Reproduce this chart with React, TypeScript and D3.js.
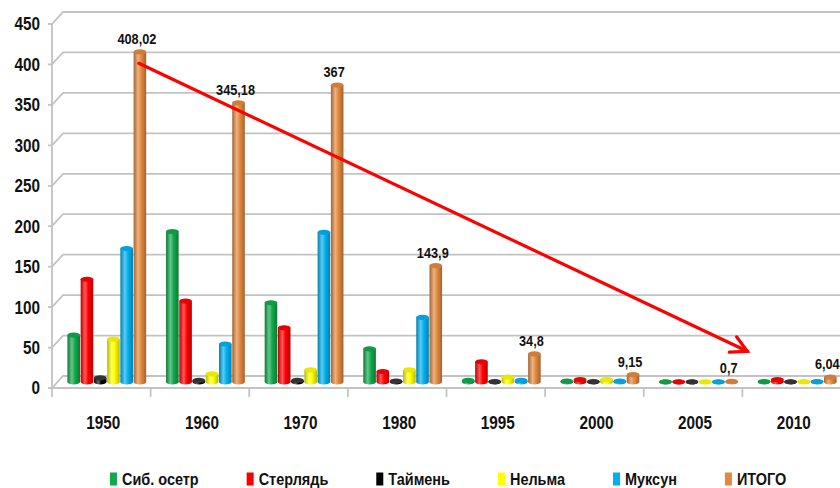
import React, { useEffect, useRef } from 'react';
import * as d3 from 'd3';

const years = ['1950', '1960', '1970', '1980', '1995', '2000', '2005', '2010'];
const seriesNames = ['Сиб. осетр', 'Стерлядь', 'Таймень', 'Нельма', 'Муксун', 'ИТОГО'];
const sibOsetr = [58, 186, 98, 41, 2, 1, 0.2, 0.5];
const sterlyad = [127, 100, 67, 13, 25, 3, 0.2, 3];
const taimen = [5, 2, 2, 1, 0.5, 0.5, 0.1, 0.3];
const nelma = [53, 10, 15, 15, 6, 3, 0.1, 0.5];
const muksun = [165, 47, 185, 80, 2, 1, 0.1, 0.5];
const itogo = [408.02, 345.18, 367, 143.9, 34.8, 9.15, 0.7, 6.04];
const itogoLabels = ['408,02', '345,18', '367', '143,9', '34,8', '9,15', '0,7', '6,04'];
const yTicks = [0, 50, 100, 150, 200, 250, 300, 350, 400, 450];
const seriesColors = ['#12a84b', '#ff0000', '#000000', '#ffff00', '#00b0f0', '#e2893f'];
// trend arrow: [year, fraction across category, value]
const arrowStart = { year: '1950', frac: 0.88, value: 394 };
const arrowEnd = { year: '2010', frac: 0.05, value: 38 };

const FONT = "'Liberation Sans', Arial, sans-serif";
const SQUEEZE = 0.85;

export default function App() {
  const ref = useRef<SVGSVGElement>(null);

  useEffect(() => {
    const svg = d3.select(ref.current);
    svg.selectAll('*').remove();
    const allSeries = [sibOsetr, sterlyad, taimen, nelma, muksun, itogo];

    const left = 52, right = 841, bottom = 388, top = 24;
    const depthX = 11, depthY = -12;
    const x0 = d3.scaleBand<string>().domain(years).range([left, right]).paddingInner(0).paddingOuter(0);
    const x1 = d3.scaleBand<string>().domain(seriesNames).range([0, x0.bandwidth()]).paddingInner(0.05).paddingOuter(0.75);
    const y = d3.scaleLinear().domain([0, 450]).range([bottom, top]);

    const label = (g: any, x: number, yy: number, txt: string, size: number, anchor: string, dy = '0') =>
      g.append('text')
        .attr('transform', `translate(${x},${yy}) scale(${SQUEEZE},1)`)
        .attr('dy', dy).attr('text-anchor', anchor)
        .attr('font-family', FONT).attr('font-weight', 'bold').attr('font-size', size).attr('fill', '#111')
        .text(txt);

    const defs = svg.append('defs');
    seriesColors.forEach((c, i) => {
      const base = d3.color(c)!;
      const g = defs.append('linearGradient').attr('id', 'cyl' + i).attr('x1', '0%').attr('x2', '100%').attr('y1', '0%').attr('y2', '0%');
      const dark = i === 2 ? '#000' : base.darker(0.9).formatHex();
      const light = i === 2 ? '#666' : d3.interpolateRgb(c, '#ffffff')(0.35);
      g.append('stop').attr('offset', '0%').attr('stop-color', dark);
      g.append('stop').attr('offset', '35%').attr('stop-color', light);
      g.append('stop').attr('offset', '60%').attr('stop-color', c);
      g.append('stop').attr('offset', '100%').attr('stop-color', dark);
    });

    const grid = svg.append('g').attr('stroke', '#c3c3c3').attr('stroke-width', 1.8).attr('fill', 'none');
    yTicks.forEach(t => {
      const yf = y(t);
      grid.append('path').attr('d', `M${left - 4},${yf}L${left},${yf}L${left + depthX},${yf + depthY}L${right + 10},${yf + depthY}`);
    });
    grid.append('path').attr('d', `M${left},${y(450)}L${left},${bottom}L${right + 10},${bottom}`);
    years.forEach(yr => {
      const xx = x0(yr)!;
      grid.append('line').attr('x1', xx).attr('x2', xx).attr('y1', bottom).attr('y2', bottom + 9);
    });

    // y labels
    const yl = svg.append('g');
    yTicks.forEach(t => label(yl, 40, y(t), String(t), 18, 'end', '0.36em'));

    // x labels
    const xlG = svg.append('g');
    years.forEach(yr => label(xlG, x0(yr)! + x0.bandwidth() / 2 + 2, 423, yr, 18, 'middle', '0.36em'));

    // cylinders
    const bx = depthX / 2, by = depthY / 2;
    const bw = x1.bandwidth();
    const ry = 2.6;
    const bars = svg.append('g');
    years.forEach((yr, i) => {
      seriesNames.forEach((s, j) => {
        const v = allSeries[j][i];
        const xl = x0(yr)! + x1(s)! + bx;
        const cx = xl + bw / 2;
        const yb = y(0) + by;
        const yt = y(v) + by;
        const fill = `url(#cyl${j})`;
        bars.append('ellipse').attr('cx', cx).attr('cy', yb).attr('rx', bw / 2).attr('ry', ry).attr('fill', fill);
        bars.append('rect').attr('x', xl).attr('y', yt).attr('width', bw).attr('height', Math.max(0, yb - yt)).attr('fill', fill);
        const topCol = j === 2 ? '#333' : d3.color(seriesColors[j])!.darker(0.25).formatHex();
        bars.append('ellipse').attr('cx', cx).attr('cy', yt).attr('rx', bw / 2).attr('ry', ry).attr('fill', topCol);
      });
    });

    // total labels
    const tl = svg.append('g');
    years.forEach((yr, i) => {
      label(tl, x0(yr)! + x1('ИТОГО')! + bx + bw / 2 - 3, y(itogo[i]) + by - 8, itogoLabels[i], 15, 'middle');
    });

    // trend arrow
    const sx = x0(arrowStart.year)! + arrowStart.frac * x0.bandwidth();
    const sy = y(arrowStart.value) + by;
    const ex = x0(arrowEnd.year)! + arrowEnd.frac * x0.bandwidth();
    const ey = y(arrowEnd.value) + by;
    const ang = Math.atan2(sy - ey, sx - ex);
    const hl = 18, ha = (28 * Math.PI) / 180;
    const p1 = [ex + hl * Math.cos(ang + ha), ey + hl * Math.sin(ang + ha)];
    const p2 = [ex + hl * Math.cos(ang - ha), ey + hl * Math.sin(ang - ha)];
    const arrow = svg.append('g').attr('stroke', '#ff0000').attr('stroke-width', 3.2).attr('fill', 'none').attr('stroke-linecap', 'round');
    arrow.append('line').attr('x1', sx).attr('y1', sy).attr('x2', ex).attr('y2', ey);
    arrow.append('path').attr('d', `M${p1[0]},${p1[1]}L${ex},${ey}L${p2[0]},${p2[1]}`).attr('stroke-linejoin', 'miter');

    // legend
    const lg = svg.append('g');
    let lx = 110;
    const ly = 479;
    seriesNames.forEach((s, j) => {
      lg.append('rect').attr('x', lx).attr('y', ly - 6.5).attr('width', 7).attr('height', 13).attr('fill', seriesColors[j]);
      const t = label(lg, lx + 12, ly, s, 17, 'start', '0.36em');
      const w = (t.node() as SVGTextElement).getComputedTextLength() * SQUEEZE;
      lx = lx + 12 + w + 48;
    });
  }, []);

  return (
    <svg ref={ref} width={840} height={488} style={{ position: 'absolute', left: 0, top: 0, background: '#fff' }} />
  );
}
